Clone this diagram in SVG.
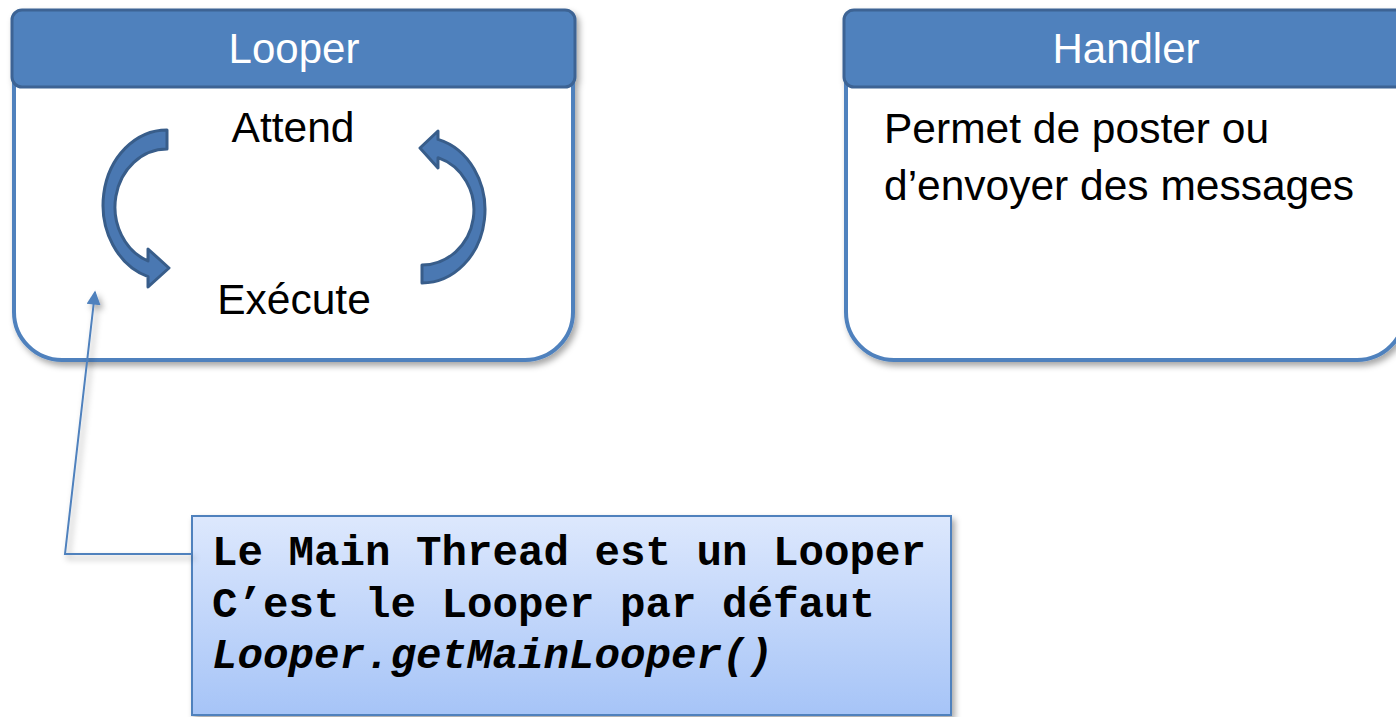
<svg xmlns="http://www.w3.org/2000/svg" width="1396" height="717" viewBox="0 0 1396 717">
  <defs>
    <filter id="shadow" x="-10%" y="-10%" width="130%" height="130%">
      <feDropShadow dx="3" dy="4" stdDeviation="3" flood-color="#000" flood-opacity="0.35"/>
    </filter>
    <linearGradient id="noteFill" x1="0" y1="0" x2="0" y2="1">
      <stop offset="0" stop-color="#dde8fd"/>
      <stop offset="1" stop-color="#a6c4f7"/>
    </linearGradient>
    <marker id="arrowHead" viewBox="0 0 10 10" refX="9" refY="5" markerWidth="16" markerHeight="14" markerUnits="userSpaceOnUse" orient="auto">
      <path d="M0,0 L10,5 L0,10 Z" fill="#4f81bd"/>
    </marker>
  </defs>
  <style>
    .body { fill: #ffffff; stroke: #4f81bd; stroke-width: 4; }
    .header { fill: #4f81bd; stroke: #3c6494; stroke-width: 3; }
    .title { font-family: "Liberation Sans", Arial, sans-serif; font-size: 42px; fill: #ffffff; text-anchor: middle; }
    .label { font-family: "Liberation Sans", Arial, sans-serif; font-size: 42.5px; fill: #000000; }
    .center { text-anchor: middle; }
    .cycle { fill: #4a78b2; stroke: #385d8a; stroke-width: 3; stroke-linejoin: round; }
    .link { fill: none; stroke: #4f81bd; stroke-width: 5; }
    .pointer { fill: none; stroke: #4f81bd; stroke-width: 2; }
    .note { fill: url(#noteFill); stroke: #4f81bd; stroke-width: 2; }
    .code { font-family: "Liberation Mono", "Courier New", monospace; font-size: 42.5px; font-weight: bold; fill: #000000; }
  </style>

  <!-- Looper node -->
  <g id="looper">
    <g filter="url(#shadow)">
      <path class="body" d="M14,40 L573,40 L573,312 A48,48 0 0 1 525,360 L62,360 A48,48 0 0 1 14,312 Z"/>
      <rect class="header" x="12" y="10" width="563" height="77" rx="10" ry="10"/>
    </g>
    <text class="title" x="294" y="63">Looper</text>
    <text class="label center" x="293" y="142">Attend</text>
    <text class="label center" x="294" y="314">Exécute</text>
    <!-- loop arrows: Attend -> Exécute on the left, back up on the right -->
    <path class="cycle" d="M167,130 A64,75 0 0 0 148,276.6 L148,287 L169,268 L148,249 L148,261 A52,58 0 0 1 167,149 Z"/>
    <path class="cycle" d="M422,283 A63,73 0 0 0 438,139.4 L438,131 L420,148 L438,168 L438,157.7 A52,55 0 0 1 422,265 Z"/>
  </g>

  <!-- Handler node -->
  <g id="handler">
    <g filter="url(#shadow)">
      <path class="body" d="M846,40 L1405,40 L1405,312 A48,48 0 0 1 1357,360 L894,360 A48,48 0 0 1 846,312 Z"/>
      <rect class="header" x="844" y="10" width="563" height="77" rx="10" ry="10"/>
    </g>
    <text class="title" x="1126" y="63">Handler</text>
    <text class="label" x="884" y="143">Permet de poster ou</text>
    <text class="label" x="884" y="200">d’envoyer des messages</text>
  </g>

  <!-- Main thread note -->
  <g id="note">
    <rect class="note" x="192" y="516" width="759" height="199" filter="url(#shadow)"/>
    <text class="code" x="212" y="565">Le Main Thread est un Looper</text>
    <text class="code" x="212" y="617">C’est le Looper par défaut</text>
    <text class="code" x="212" y="668" font-style="italic">Looper.getMainLooper()</text>
  </g>

  <!-- connectors -->
  <g id="connectors">
    <line class="link" x1="574" y1="186" x2="847" y2="186" filter="url(#shadow)"/>
    <polyline class="pointer" points="192,554 65,554 95,292" marker-end="url(#arrowHead)" filter="url(#shadow)"/>
  </g>
</svg>
